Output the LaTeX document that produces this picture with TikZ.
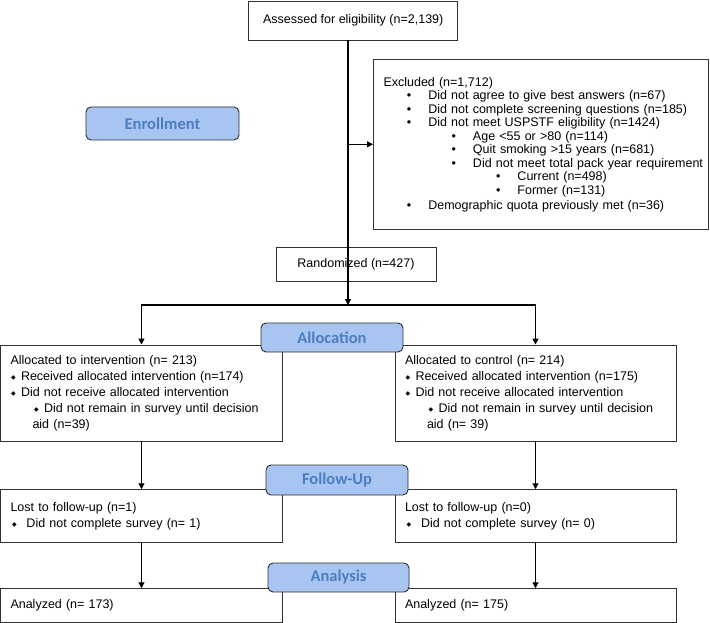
\documentclass[tikz,border=0pt]{standalone}
\usepackage{fontspec}
\setmainfont{Liberation Sans}
\newfontfamily\stagefont{Carlito}
\newfontfamily\symfont{DejaVu Sans}
\usetikzlibrary{arrows.meta}
\definecolor{stagefill}{RGB}{168,197,242}
\definecolor{stagetext}{RGB}{74,126,192}
\definecolor{stageline}{RGB}{45,45,45}
\newcommand{\bul}[1]{\hspace*{#1}\makebox[21.5pt][l]{\textbullet}}
\newcommand{\dmd}{\makebox[6pt][c]{\raisebox{0.6pt}{\symfont\fontsize{6}{6}\selectfont ◆}}}
\begin{document}
\begin{tikzpicture}[x=1pt, y=-1pt,
    box/.style={draw=black!80, line width=0.9pt, inner sep=0pt, font=\fontsize{12.5}{16}\selectfont},
    listbox/.style={box, align=left, inner xsep=10pt},
    stage/.style={draw=stageline, fill=stagefill, rounded corners=5pt, line width=0.9pt, text=stagetext,
        font=\stagefont\bfseries\fontsize{16.5}{18}\selectfont, inner sep=0pt},
    arr/.style={-{Triangle[length=6pt,width=6pt]}, line width=1.1pt}]
    \useasboundingbox (0,0) rectangle (710,623);

    % Enrollment
    \node[box, minimum width=209pt, minimum height=39pt] (assess) at (353.2,20.5) {Assessed for eligibility (n=2,139)};
    \node[listbox, text width=315pt, minimum height=170pt, font=\fontsize{12.5}{13.5}\selectfont] (excl) at (541,144.3) {%
        Excluded (n=1,712)\\
        \bul{23.3pt}Did not agree to give best answers (n=67)\\
        \bul{23.3pt}Did not complete screening questions (n=185)\\
        \bul{23.3pt}Did not meet USPSTF eligibility (n=1424)\\
        \bul{68pt}Age <55 or >80 (n=114)\\
        \bul{68pt}Quit smoking >15 years (n=681)\\
        \bul{68pt}\mbox{Did not meet total pack year requirement}\\
        \bul{112.5pt}Current (n=498)\\
        \bul{112.5pt}Former (n=131)\\[1.5pt]
        \bul{23.3pt}Demographic quota previously met (n=36)};
    \node[box, minimum width=160pt, minimum height=34pt] (rand) at (356,264.2) {Randomized (n=427)};

    % Allocation
    \node[listbox, text width=262pt, minimum height=96pt] (allocL) at (141.5,393) {%
        Allocated to intervention (n= 213)\\
        \dmd\hspace{4.5pt}Received allocated intervention (n=174)\\
        \dmd\hspace{4.5pt}Did not receive allocated intervention\\
        \hspace*{23pt}\dmd\hspace{4.5pt}Did not remain in survey until decision\\
        \hspace*{22pt}aid (n=39)};
    \node[listbox, text width=261pt, minimum height=96pt] (allocR) at (535.5,393) {%
        Allocated to control (n= 214)\\
        \dmd\hspace{4.5pt}Received allocated intervention (n=175)\\
        \dmd\hspace{4.5pt}Did not receive allocated intervention\\
        \hspace*{23pt}\dmd\hspace{4.5pt}Did not remain in survey until decision\\
        \hspace*{22pt}aid (n= 39)};

    % Follow-Up
    \node[listbox, text width=262pt, minimum height=52.6pt] (lostL) at (141.5,516) {%
        Lost to follow-up (n=1)\\
        \hspace*{1pt}\dmd\hspace{9pt}Did not complete survey (n= 1)};
    \node[listbox, text width=261pt, minimum height=52.6pt] (lostR) at (535.5,516) {%
        Lost to follow-up (n=0)\\
        \hspace*{1pt}\dmd\hspace{9pt}Did not complete survey (n= 0)};

    % Analysis
    \node[listbox, text width=262pt, minimum height=33.6pt] (anaL) at (141.5,605.5) {Analyzed (n= 173)};
    \node[listbox, text width=261pt, minimum height=33.6pt] (anaR) at (535.5,605.5) {Analyzed (n= 175)};

    % Connectors
    \coordinate (split) at (348,305);
    \draw[arr, line width=1.6pt] (assess.south -| split) -- (split);
    \draw[arr] (excl.west -| split) -- (excl.west);
    \draw[arr, line width=1.4pt] (split) -| (allocL.north);
    \draw[arr, line width=1.4pt] (split) -| (allocR.north);
    \draw[arr] (allocL.south) -- (lostL.north);
    \draw[arr] (allocR.south) -- (lostR.north);
    \draw[arr] (lostL.south) -- (anaL.north);
    \draw[arr] (lostR.south) -- (anaR.north);

    % Stage labels
    \node[stage, minimum width=153pt, minimum height=33pt] (enroll) at (162.5,123.5) {Enrollment};
    \node[stage, minimum width=142pt, minimum height=29pt] (alloc) at (332,337.5) {Allocation};
    \node[stage, minimum width=142pt, minimum height=30pt] (follow) at (337,480) {Follow-Up};
    \node[stage, minimum width=141pt, minimum height=29pt] (analysis) at (338.5,577.5) {Analysis};
\end{tikzpicture}
\end{document}
